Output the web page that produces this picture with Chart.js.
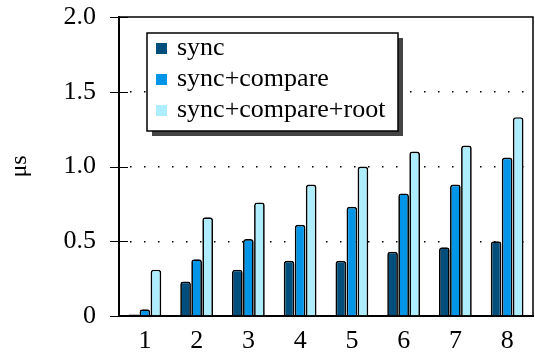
<!DOCTYPE html>
<html><head><meta charset="utf-8">
<script src="https://cdn.jsdelivr.net/npm/chart.js@4"></script>
<style>html,body{margin:0;padding:0;background:#fff}#w{width:535px;height:352px}</style>
</head><body><div id="w"><canvas id="c" width="535" height="352"></canvas></div>
<script>
const categories = ['1','2','3','4','5','6','7','8'];
const syncVals = [0.01, 0.23, 0.31, 0.37, 0.37, 0.43, 0.46, 0.50];
const compareVals = [0.045, 0.38, 0.515, 0.61, 0.73, 0.82, 0.88, 1.06];
const rootVals = [0.31, 0.66, 0.76, 0.88, 1.00, 1.10, 1.14, 1.33];
const seriesNames = ['sync', 'sync+compare', 'sync+compare+root'];
const yTicks = [0, 0.5, 1.0, 1.5, 2.0];
const yTickLabels = ['0', '0.5', '1.0', '1.5', '2.0'];
const colors = ['#004e7b', '#0095e6', '#adedfd'];
const FONT = '"Liberation Serif", "Times New Roman", serif';

const framePlugin = {
  id: 'frame',
  afterDatasetsDraw(chart) {
    const ctx = chart.ctx, a = chart.chartArea, y = chart.scales.y;
    ctx.save();
    ctx.strokeStyle = '#000';
    ctx.lineWidth = 1.5;
    ctx.beginPath();
    ctx.moveTo(a.left, a.top); ctx.lineTo(a.right, a.top); ctx.lineTo(a.right, a.bottom);
    ctx.stroke();
    ctx.lineWidth = 1;
    yTicks.forEach(v => {
      const py = Math.round(y.getPixelForValue(v)) + 0.5;
      ctx.beginPath(); ctx.moveTo(a.left - 9, py); ctx.lineTo(a.left + 9, py); ctx.stroke();
    });
    ctx.restore();
  },
  afterDraw(chart) {
    const ctx = chart.ctx;
    const bx = 147, by = 33, bw = 251, bh = 98;
    ctx.save();
    ctx.fillStyle = '#444';
    ctx.fillRect(bx + 5, by + 5, bw, bh);
    ctx.fillStyle = '#fff';
    ctx.fillRect(bx, by, bw, bh);
    ctx.strokeStyle = '#000';
    ctx.lineWidth = 1.5;
    ctx.strokeRect(bx, by, bw, bh);
    ctx.font = '26px ' + FONT;
    ctx.textBaseline = 'middle';
    ctx.textAlign = 'left';
    chart.data.datasets.forEach((ds, i) => {
      const cy = by + 15 + i * 31;
      ctx.fillStyle = ds.backgroundColor;
      ctx.fillRect(bx + 9, cy - 5, 11, 11);
      ctx.fillStyle = '#000';
      ctx.fillText(ds.label, bx + 30, cy);
    });
    ctx.restore();
  }
};

new Chart(document.getElementById('c'), {
  type: 'bar',
  data: {
    labels: categories,
    datasets: [syncVals, compareVals, rootVals].map((d, i) => ({
      label: seriesNames[i], data: d,
      backgroundColor: colors[i], borderColor: '#000', borderWidth: 1.7,
      borderRadius: 3, borderSkipped: 'bottom',
      categoryPercentage: 0.64, barPercentage: 0.97
    }))
  },
  options: {
    responsive: false, animation: false, devicePixelRatio: 1,
    layout: { padding: { left: 0, right: 2, top: 17, bottom: 0 } },
    plugins: { legend: { display: false }, tooltip: { enabled: false } },
    scales: {
      x: {
        grid: { display: false },
        border: { color: '#000', width: 2 },
        ticks: { color: '#000', font: { family: FONT, size: 26 }, padding: 2 },
        afterFit(s) { s.height = 36; s.paddingLeft = 0; s.paddingRight = 0; }
      },
      y: {
        min: 0, max: 2,
        afterBuildTicks(s) { s.ticks = yTicks.map(v => ({ value: v })); },
        grid: {
          color: ctx => (ctx.tick && (ctx.tick.value === 0 || ctx.tick.value === 2)) ? 'rgba(0,0,0,0)' : '#000',
          lineWidth: 1.5, drawTicks: false
        },
        border: { color: '#000', width: 2, dash: [1.5, 12.5], dashOffset: -10 },
        ticks: {
          color: '#000', font: { family: FONT, size: 26 }, padding: 23,
          callback: (v, i) => yTickLabels[yTicks.indexOf(v)]
        },
        title: { display: true, text: 'μs', color: '#000', font: { family: FONT, size: 24 }, padding: { top: 5, bottom: 0 } },
        afterFit(s) { s.width = 119; s.paddingTop = 0; s.paddingBottom = 0; }
      }
    }
  },
  plugins: [framePlugin]
});
</script></body></html>
